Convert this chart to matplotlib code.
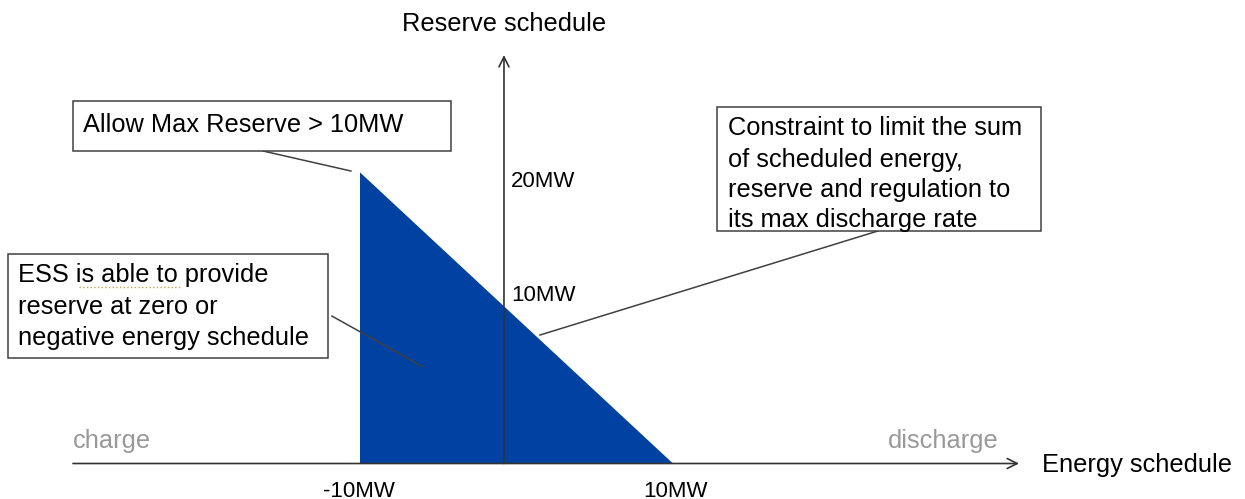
import matplotlib.pyplot as plt
from matplotlib.patches import Polygon, Rectangle

plt.rcParams['font.family'] = ['Liberation Sans', 'DejaVu Sans']

# feasible region (energy schedule MW, reserve schedule MW)
region_x = [-10, -10, 10]
region_y = [0, 18.6, 0]

x_tick_labels = ['-10MW', '10MW']
x_tick_pos = [-10.06, 10.13]
y_tick_labels = ['20MW', '10MW']
y_tick_pos = [17.99, 10.76]

note_allow = ['Allow Max Reserve > 10MW']
note_ess = ['ESS is able to provide', 'reserve at zero or', 'negative energy schedule']
note_limit = ['Constraint to limit the sum', 'of scheduled energy,',
              'reserve and regulation to', 'its max discharge rate']

fig = plt.figure(figsize=(12.45, 4.99), dpi=100)
ax = fig.add_axes([0, 0, 1, 1])
ax.set_xlim(-33.003, 46.55)
ax.set_ylim(-2.268, 29.617)
ax.axis('off')

blue = '#0041A1'
dark = '#404040'
fs = 18.3

ax.add_patch(Polygon(list(zip(region_x, region_y)), closed=True,
                     facecolor=blue, edgecolor='none', zorder=1))

# axes with open arrowheads
y_axis_x = -0.80
ax.annotate('', xy=(32.11, 0), xytext=(-28.34, 0),
            arrowprops=dict(arrowstyle='->', color='#333333', lw=1.2,
                            mutation_scale=18, shrinkA=0, shrinkB=0), zorder=3)
ax.annotate('', xy=(y_axis_x, 26.10), xytext=(y_axis_x, 0),
            arrowprops=dict(arrowstyle='->', color='#333333', lw=1.2,
                            mutation_scale=18, shrinkA=0, shrinkB=0), zorder=3)

ax.text(-0.77, 28.08, 'Reserve schedule', fontsize=fs, ha='center', va='center')
ax.text(33.58, -0.10, 'Energy schedule', fontsize=fs, ha='left', va='center')
ax.text(-28.34, 1.44, 'charge', fontsize=fs, color='#999999', ha='left', va='center')
ax.text(30.83, 1.44, 'discharge', fontsize=fs, color='#999999', ha='right', va='center')

for lab, xp in zip(x_tick_labels, x_tick_pos):
    ax.text(xp, -1.76, lab, fontsize=16, ha='center', va='center')
for lab, yp in zip(y_tick_labels, y_tick_pos):
    ax.text(-0.35, yp, lab, fontsize=16, ha='left', va='center')

# annotation boxes
boxes = [
    (note_allow, (-28.34, 19.97, 24.15, 3.19), -27.70, [21.63]),
    (note_ess, (-32.49, 6.74, 20.45, 6.65), -31.85, [12.04, 10.00, 8.02]),
    (note_limit, (12.81, 14.86, 20.70, 7.92), 13.51, [21.44, 19.39, 17.48, 15.56]),
]
for lines, (bx, by, bw, bh), tx, tys in boxes:
    ax.add_patch(Rectangle((bx, by), bw, bh, facecolor='white',
                           edgecolor=dark, lw=1.1, zorder=4))
    for line, ty in zip(lines, tys):
        ax.text(tx, ty, line, fontsize=fs, ha='left', va='center', zorder=5)

# spell-check underline
ax.plot([-27.96, -21.50], [11.28, 11.28], color='#D0A050', lw=1, ls=':', zorder=6)

# leader lines
leaders = [
    ([-16.20, -10.58], [19.97, 18.69]),
    ([-11.79, -5.97], [9.42, 6.17]),
    ([23.10, 1.50], [14.86, 8.21]),
]
for lx, ly in leaders:
    ax.plot(lx, ly, color=dark, lw=1.1, zorder=3)

fig.savefig('out.png', dpi=100)
